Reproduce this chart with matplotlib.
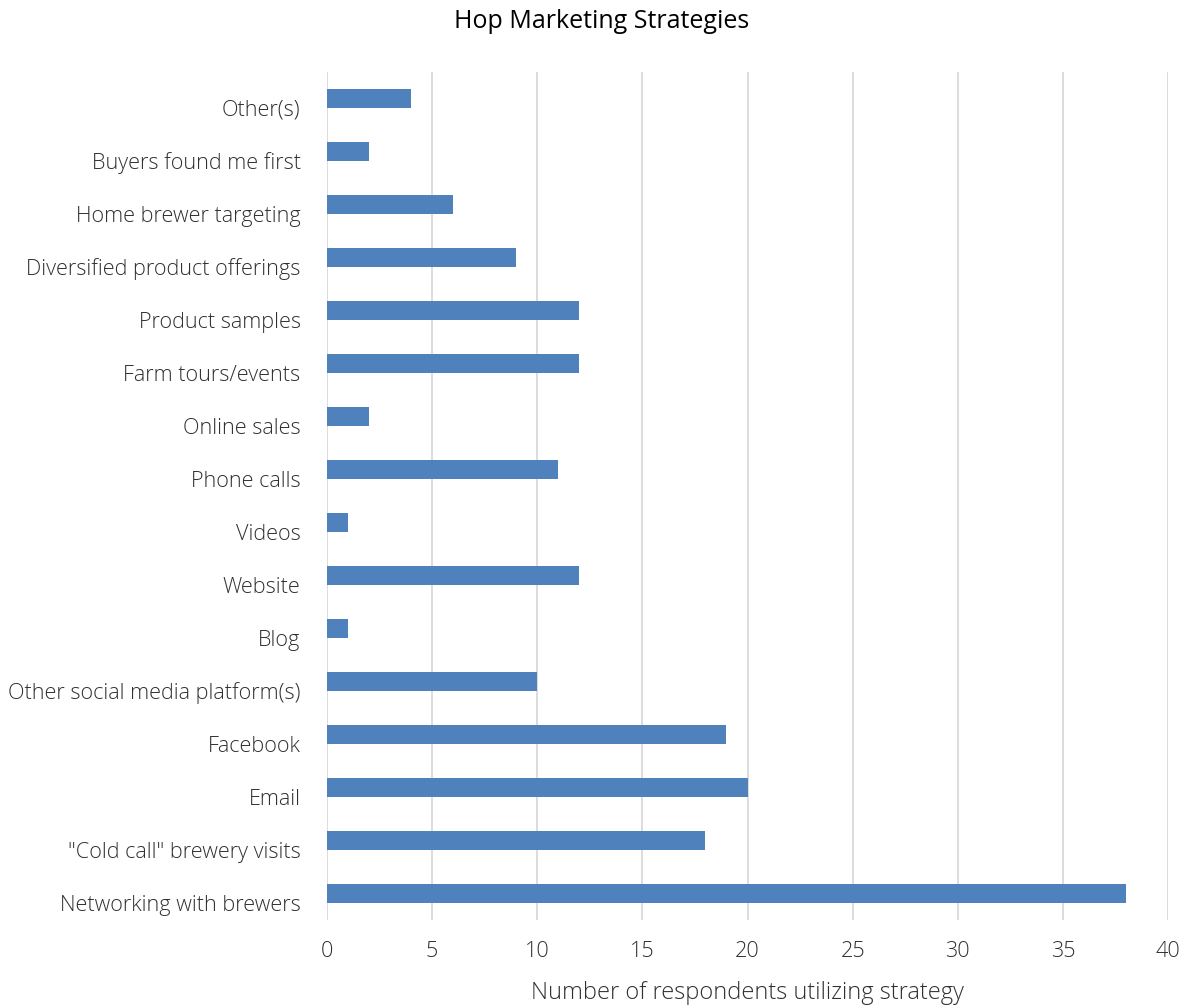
import matplotlib
matplotlib.use("Agg")
import matplotlib.pyplot as plt
import matplotlib.transforms as mtransforms

categories = ["Networking with brewers", "\"Cold call\" brewery visits", "Email", "Facebook",
              "Other social media platform(s)", "Blog", "Website", "Videos", "Phone calls",
              "Online sales", "Farm tours/events", "Product samples", "Diversified product offerings",
              "Home brewer targeting", "Buyers found me first", "Other(s)"]
values = [38, 18, 20, 19, 10, 1, 12, 1, 11, 2, 12, 12, 9, 6, 2, 4]
xticks = [0, 5, 10, 15, 20, 25, 30, 35, 40]

plt.rcParams['font.family'] = ['Open Sans', 'DejaVu Sans']

fig = plt.figure(figsize=(11.86, 10.05), dpi=100)
ax = fig.add_axes([327/1186, 1-920/1005, (1168-327)/1186, (920-72)/1005])

ax.barh(range(len(categories)), values, height=0.34, color="#4F81BD", zorder=3)
ax.set_ylim(-0.5, len(categories)-0.5)
ax.set_xlim(0, 40)
ax.set_xticks(xticks)
ax.set_yticks(range(len(categories)))
ax.set_yticklabels(categories)
ax.xaxis.grid(True, color="#D9D9D9", linewidth=1.3, zorder=0)
ax.yaxis.grid(False)
for s in ax.spines.values():
    s.set_visible(False)
ax.tick_params(axis='both', length=0, labelsize=15.6, labelcolor="#303030")
ax.tick_params(axis='y', pad=19)
ax.tick_params(axis='x', pad=15)
offset = mtransforms.ScaledTranslation(0, -9/100, fig.dpi_scale_trans)
for lab in ax.get_yticklabels():
    lab.set_transform(lab.get_transform() + offset)
for lab in ax.get_xticklabels() + ax.get_yticklabels():
    lab.set_fontweight('light')
ax.set_xlabel("Number of respondents utilizing strategy", fontsize=17, color="#303030",
              fontweight='light', labelpad=14)
fig.text(602/1186, 1-22/1005, "Hop Marketing Strategies", ha='center', va='center',
         fontsize=18, color="black")

fig.savefig("out.png", dpi=100)
